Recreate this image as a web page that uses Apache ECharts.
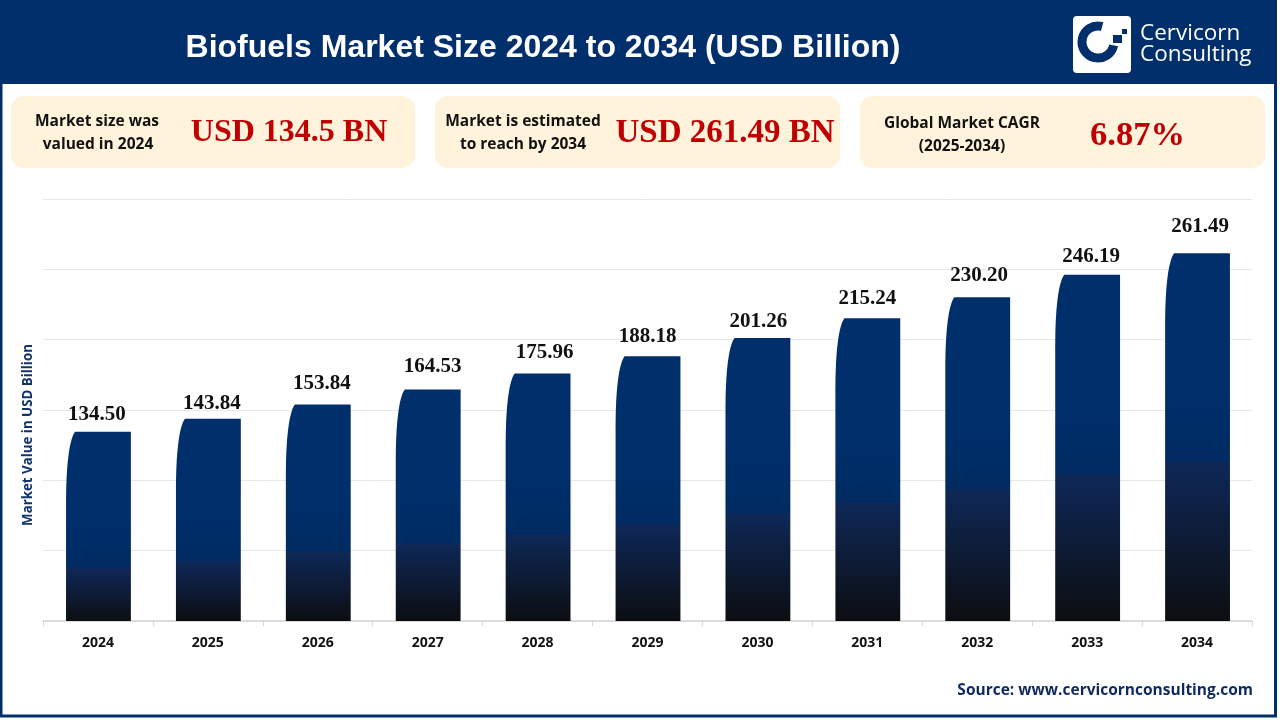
<!DOCTYPE html>
<html>
<head>
<meta charset="utf-8">
<style>
  html, body { margin: 0; padding: 0; background: #fff; }
  #main { width: 1280px; height: 720px; }
</style>
<script src="https://cdn.jsdelivr.net/npm/echarts@6/dist/echarts.min.js"></script>
</head>
<body>
<div id="main"></div>
<script>
var years = ['2024', '2025', '2026', '2027', '2028', '2029', '2030', '2031', '2032', '2033', '2034'];
var marketValues = [134.50, 143.84, 153.84, 164.53, 175.96, 188.18, 201.26, 215.24, 230.20, 246.19, 261.49];
// where the dark lower band of each bar stops, on the value scale
var darkBandTops = [37.6, 42.6, 49, 55, 62, 69, 77, 85, 94, 104, 114];

var NAVY = '#002f6c';
var chartDom = document.getElementById('main');
var myChart = echarts.init(chartDom);

// value labels were placed by hand in the original, so each one has its own nudge [dx, gap above bar]
var labelNudge = [[-1, 17], [4, 15], [4, 21], [5, 23], [7, 21], [0, 20], [1, 16], [0, 20], [2, 22], [4, 18], [3, 27]];

/* header and info cards */
function label(text, x, y, font, fill, align) {
  return {
    type: 'text',
    style: { text: text, x: x, y: y, font: font, fill: fill, textAlign: align || 'center', textVerticalAlign: 'middle' }
  };
}

function card(x, width) {
  return {
    type: 'rect',
    shape: { x: x, y: 96, width: width, height: 72, r: 13 },
    style: { fill: '#fff3dc' }
  };
}

var cardFont = 'bold 15.5px "Open Sans", sans-serif';
var bigFont = 'bold 33px "Liberation Serif", serif';
var logoFont = '22.5px "Open Sans", sans-serif';

var graphics = [
  { type: 'rect', shape: { x: 1, y: 1, width: 1274.5, height: 715 }, style: { fill: 'none', stroke: NAVY, lineWidth: 3 } },
  { type: 'rect', shape: { x: 0, y: 0, width: 1277, height: 84 }, style: { fill: NAVY } },
  label('Biofuels Market Size 2024 to 2034 (USD Billion)', 543, 48, 'bold 32px "Liberation Sans", Arial, sans-serif', '#fff'),

  // logo
  { type: 'rect', shape: { x: 1073, y: 16, width: 58, height: 57, r: 4 }, style: { fill: '#fff' } },
  {
    type: 'arc',
    shape: { cx: 1098, cy: 42, r: 16, startAngle: 12 * Math.PI / 180, endAngle: 285 * Math.PI / 180, clockwise: true },
    style: { fill: 'none', stroke: NAVY, lineWidth: 9 }
  },
  { type: 'rect', shape: { x: 1113, y: 35, width: 9, height: 8 }, style: { fill: NAVY } },
  { type: 'rect', shape: { x: 1122, y: 29, width: 5, height: 5 }, style: { fill: NAVY } },
  label('Cervicorn', 1140, 34, logoFont, '#fff', 'left'),
  label('Consulting', 1140, 55, logoFont, '#fff', 'left'),

  card(11, 404),
  card(435, 405),
  card(860, 405),
  label('Market size was', 97, 121.5, cardFont, '#111'),
  label('valued in 2024', 98, 144.5, cardFont, '#111'),
  label('USD 134.5 BN', 289, 132.5, 'bold 32px "Liberation Serif", serif', '#c00000'),
  label('Market is estimated', 523, 121.5, cardFont, '#111'),
  label('to reach by 2034', 523, 144.5, cardFont, '#111'),
  label('USD 261.49 BN', 725, 133, bigFont, '#c00000'),
  label('Global Market CAGR', 962, 123.5, cardFont, '#111'),
  label('(2025-2034)', 962, 146.5, cardFont, '#111'),
  label('6.87%', 1137.5, 136, 'bold 34.5px "Liberation Serif", serif', '#c00000'),

  // axis title and source
  Object.assign(label('Market Value in USD Billion', 0, 0, 'bold 13.3px "Open Sans", sans-serif', '#12336b'), { x: 28, y: 435, rotation: Math.PI / 2 }),
  label('Source: www.cervicornconsulting.com', 1253, 690.5, 'bold 15.5px "Open Sans", sans-serif', '#10295c', 'right')
];

function renderBar(params, api) {
  var i = api.value(0);
  var base = api.coord([i, 0]);
  var top = api.coord([i, api.value(1)]);
  var bandTop = api.coord([i, darkBandTops[params.dataIndex]]);
  var nudge = labelNudge[params.dataIndex];
  var w = api.size([1, 0])[0] * 0.59;
  var L = base[0] - w / 2 + 0.5;
  var R = L + w;
  var T = top[1];
  var B = base[1];
  var stop = (bandTop[1] - T) / (B - T);

  // left shoulder is a long soft curve, right corner stays square
  var d = 'M' + L + ' ' + B +
    'L' + L + ' ' + (T + 72) +
    'C' + L + ' ' + (T + 35) + ' ' + (L + 3) + ' ' + (T + 8) + ' ' + (L + 9) + ' ' + T +
    'L' + R + ' ' + T +
    'L' + R + ' ' + B + 'Z';

  return {
    type: 'group',
    children: [
      {
        type: 'path',
        shape: { pathData: d },
        style: {
          fill: new echarts.graphic.LinearGradient(0, 0, 0, 1, [
            { offset: 0, color: NAVY },
            { offset: stop * 0.6, color: NAVY },
            { offset: stop, color: '#002b62' },
            { offset: stop + 0.001, color: '#0e2858' },
            { offset: 1, color: '#0c0e11' }
          ])
        }
      },
      {
        type: 'text',
        style: {
          text: api.value(1).toFixed(2),
          x: base[0] + nudge[0],
          y: T - nudge[1],
          font: 'bold 21px "Liberation Serif", serif',
          fill: '#111',
          textAlign: 'center',
          textVerticalAlign: 'middle'
        }
      }
    ]
  };
}

var chart1 = {
  animation: false,
  backgroundColor: '#fff',
  graphic: { elements: graphics },
  grid: { left: 43, right: 28, top: 199, bottom: 99 },
  xAxis: {
    type: 'category',
    data: years,
    axisLine: { lineStyle: { color: '#d4d4d4', width: 1.5 } },
    axisTick: { show: true, length: 5, lineStyle: { color: '#d4d4d4' } },
    axisLabel: { margin: 15, color: '#111', fontFamily: '"Open Sans", sans-serif', fontWeight: 'bold', fontSize: 14 }
  },
  yAxis: {
    type: 'value',
    min: 0,
    max: 300,
    interval: 50,
    axisLabel: { show: false },
    axisLine: { show: false },
    axisTick: { show: false },
    splitLine: { lineStyle: { color: '#e8e8e8' } }
  },
  series: [
    {
      type: 'custom',
      renderItem: renderBar,
      encode: { x: 0, y: 1 },
      data: marketValues.map(function (v, i) { return [i, v]; })
    }
  ]
};

chart1 && myChart.setOption(chart1);
</script>
</body>
</html>
